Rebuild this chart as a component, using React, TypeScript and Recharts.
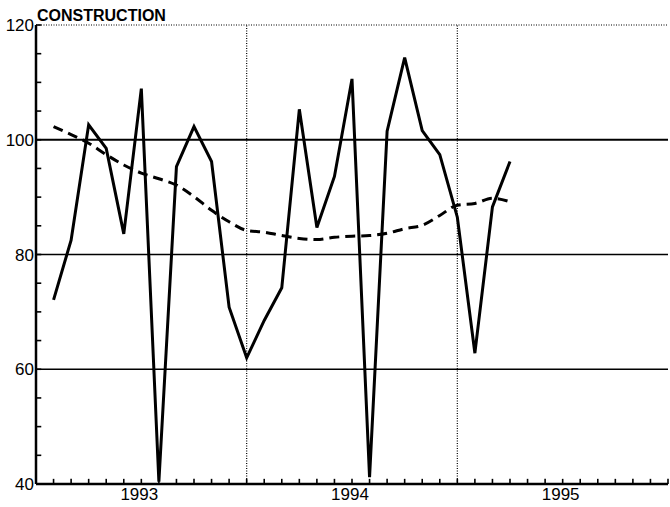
import React from 'react';
import { LineChart, Line, XAxis, YAxis, ReferenceLine } from 'recharts';

// Monthly observations, Feb 1993 – Apr 1995
const months = [
  '1993-02', '1993-03', '1993-04', '1993-05', '1993-06', '1993-07', '1993-08', '1993-09', '1993-10', '1993-11', '1993-12',
  '1994-01', '1994-02', '1994-03', '1994-04', '1994-05', '1994-06', '1994-07', '1994-08', '1994-09', '1994-10', '1994-11', '1994-12',
  '1995-01', '1995-02', '1995-03', '1995-04',
];
const actual = [
  72.1, 82.5, 102.6, 98.5, 83.6, 108.9, 40.4, 95.3, 102.3, 96.2, 70.8,
  62.0, 68.5, 74.2, 105.3, 84.7, 93.6, 110.6, 41.2, 101.5, 114.3, 101.6, 97.4,
  86.5, 62.8, 88.3, 96.2,
];
const trend = [
  102.3, 100.9, 99.4, 97.4, 95.6, 94.2, 93.2, 92.1, 90.1, 87.7, 85.7,
  84.2, 83.9, 83.3, 82.8, 82.6, 83.0, 83.2, 83.3, 83.7, 84.5, 85.1, 86.8,
  88.6, 88.9, 89.8, 89.2,
];
const years = ['1993', '1994', '1995'];
const yearCenters = [6, 18, 30];
const yearBounds = [12, 24];
const yTicks = [40, 45, 50, 55, 60, 65, 70, 75, 80, 85, 90, 95, 100, 105, 110, 115, 120];
const yLabels = [40, 60, 80, 100, 120];
const yGrid = [60, 80, 100];
const xTicks = [0, 1, 2, 3, 4, 5, 6, 7, 8, 9, 10, 11, 12, 13, 14, 15, 16, 17, 18, 19, 20, 21, 22, 23, 24, 25, 26, 27, 28, 29, 30, 31, 32, 33, 34, 35, 36];
const baseYear = 1993;
const xMin = 0;
const xMax = 36;
const yMin = 40;
const yMax = 120;
// inward tick-mark lengths, in axis units
const xTickLen = 0.9;
const yTickLen = 0.3;

const data = months.map((m, i) => {
  const [yy, mm] = m.split('-').map(Number);
  return { x: (yy - baseYear) * 12 + (mm - 1), actual: actual[i], trend: trend[i] };
});

const FONT = '"Liberation Sans", Arial, sans-serif';

function YTick(props: any) {
  const { y, payload } = props;
  const v = payload.value;
  if (!yLabels.includes(v)) return <g />;
  return (
    <text x={34} y={y} dy="0.36em" textAnchor="end" fontFamily={FONT} fontSize={17} fill="#000">
      {String(v)}
    </text>
  );
}

function XTick(props: any) {
  const { x, payload } = props;
  const idx = yearCenters.indexOf(payload.value);
  if (idx < 0) return <g />;
  return (
    <text x={x - 2} y={500} textAnchor="middle" fontFamily={FONT} fontSize={17} fill="#000">
      {years[idx]}
    </text>
  );
}

export default function App() {
  return (
    <div style={{ position: 'absolute', left: 0, top: 0, width: 670, height: 507, background: '#fff' }}>
      <div
        style={{
          position: 'absolute',
          left: 37,
          top: 8,
          fontFamily: FONT,
          fontWeight: 'bold',
          fontSize: 16,
          lineHeight: '16px',
          color: '#000',
          zIndex: 2,
        }}
      >
        CONSTRUCTION
      </div>
      <LineChart width={670} height={507} data={data} margin={{ top: 25, right: 2, left: 0, bottom: 0 }}>
        <XAxis
          type="number"
          dataKey="x"
          domain={[xMin, xMax]}
          ticks={xTicks}
          interval={0}
          tickSize={0}
          tickMargin={0}
          tickLine={false}
          tick={(p: any) => <XTick {...p} />}
          height={23}
          axisLine={{ stroke: '#000', strokeWidth: 2.5 }}
        />
        <YAxis
          type="number"
          domain={[yMin, yMax]}
          ticks={yTicks}
          interval={0}
          tickSize={0}
          tickMargin={0}
          tickLine={false}
          tick={(p: any) => <YTick {...p} />}
          width={36}
          axisLine={{ stroke: '#000', strokeWidth: 2.5 }}
        />
        {yGrid.map((g) => (
          <ReferenceLine key={'h' + g} y={g} stroke="#000" strokeWidth={g === 100 ? 2 : 1.5} />
        ))}
        <ReferenceLine y={yMax} stroke="#000" strokeWidth={1.2} strokeDasharray="1 1.5" />
        {yearBounds.map((b) => (
          <ReferenceLine key={'v' + b} x={b} stroke="#000" strokeWidth={1.2} strokeDasharray="1 1.5" />
        ))}
        {xTicks.map((t) => (
          <ReferenceLine
            key={'xt' + t}
            segment={[{ x: t, y: yMin }, { x: t, y: yMin + xTickLen }]}
            stroke="#000"
            strokeWidth={1.6}
          />
        ))}
        {yTicks.map((t) => (
          <ReferenceLine
            key={'yt' + t}
            segment={[{ x: xMin, y: t }, { x: xMin + yTickLen, y: t }]}
            stroke="#000"
            strokeWidth={1.6}
          />
        ))}
        <Line
          type="monotone"
          dataKey="trend"
          stroke="#000"
          strokeWidth={3}
          strokeDasharray="10 6"
          dot={false}
          isAnimationActive={false}
        />
        <Line
          type="linear"
          dataKey="actual"
          stroke="#000"
          strokeWidth={3}
          strokeLinejoin="miter"
          dot={false}
          isAnimationActive={false}
        />
      </LineChart>
    </div>
  );
}
